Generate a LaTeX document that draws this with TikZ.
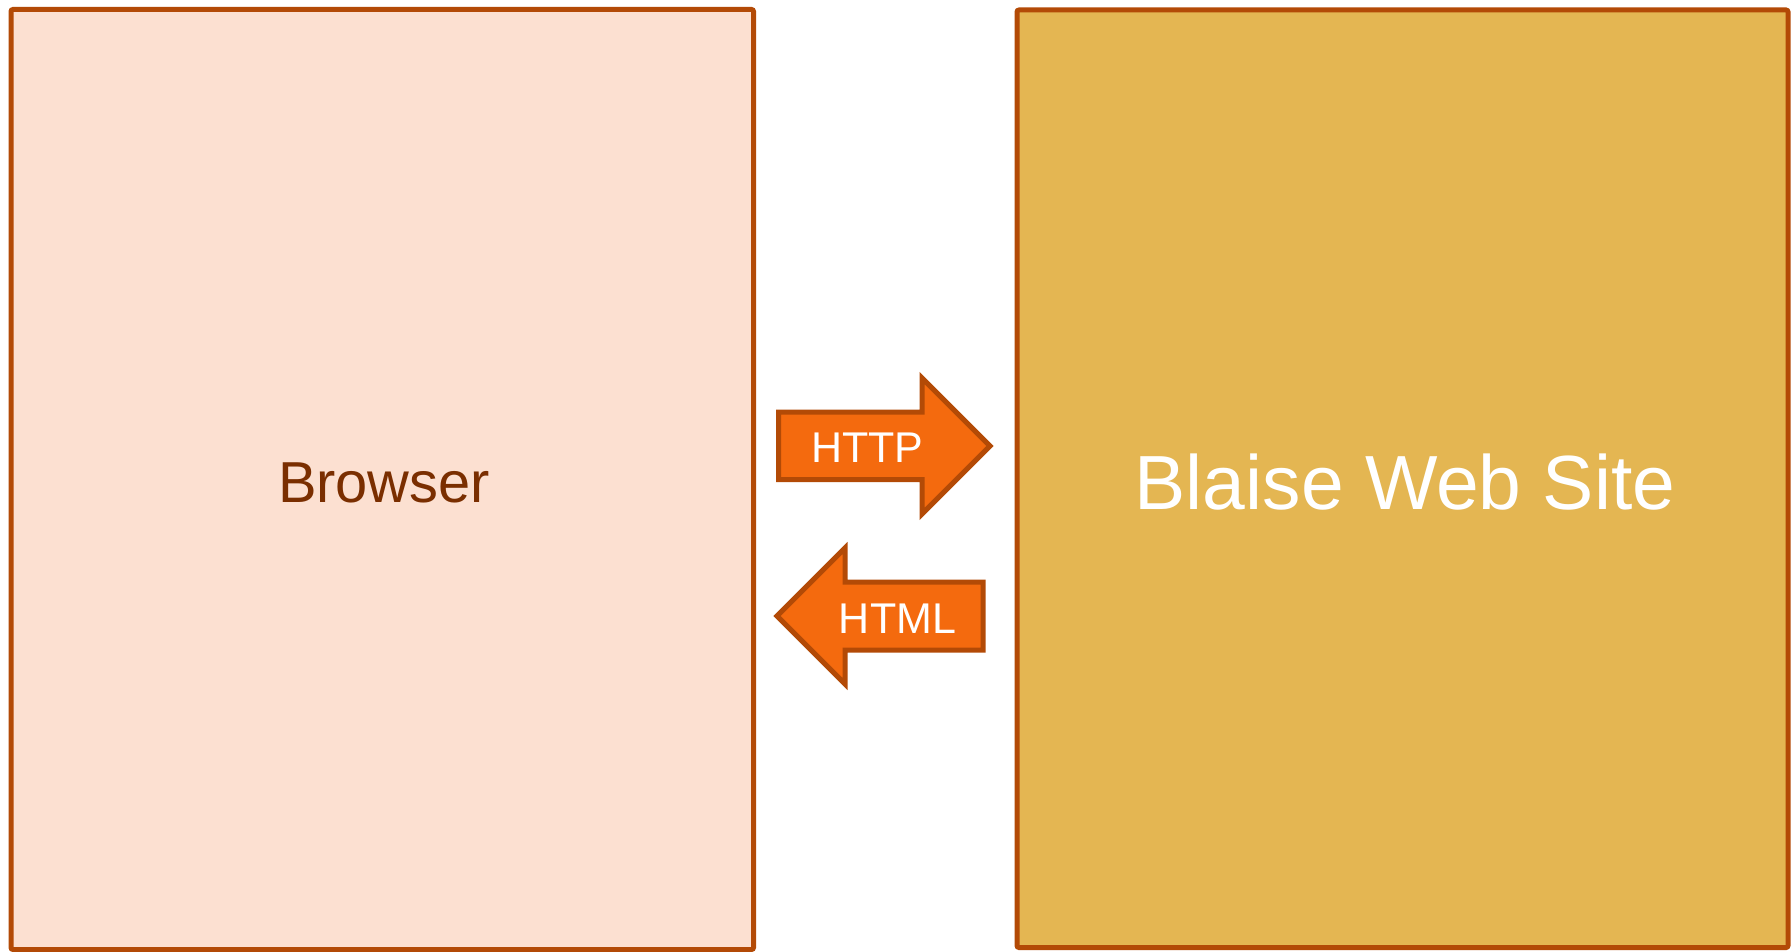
\documentclass[tikz,border=0pt]{standalone}
\usepackage{fontspec}
\setmainfont{Liberation Sans}
\usepackage{tikz}

\definecolor{boxline}{HTML}{B34A06}
\definecolor{browserfill}{HTML}{FCE0D1}
\definecolor{browsertext}{HTML}{7A2E00}
\definecolor{sitefill}{HTML}{E4B652}
\definecolor{arrowfill}{HTML}{F46A0E}

\begin{document}
\begin{tikzpicture}[x=0.5pt, y=-0.5pt, line width=2.5pt, line join=miter,
    block/.style={draw=boxline, rounded corners=1pt},
    bigarrow/.style={draw=boxline, fill=arrowfill},
    arrowlabel/.style={text=white, font=\fontsize{21.5}{24}\selectfont}]
    \useasboundingbox (0,0) rectangle (1792,952);
    % the two sides
    \draw[block, fill=browserfill] (11,9.5) rectangle (753.5,949.5);
    \draw[block, fill=sitefill] (1017,10) rectangle (1788,947.5);
    \node (browser) at (384,483.3) [text=browsertext, font=\fontsize{28.9}{32}\selectfont] {Browser};
    \node (site) at (1405,482.5) [text=white, font=\fontsize{38.4}{42}\selectfont] {Blaise Web Site};
    % request and answer
    \draw[bigarrow] (778.5,412) -- (922,412) -- (922,378) -- (990,446)
        -- (922,514) -- (922,479.5) -- (778.5,479.5) -- cycle;
    \draw[bigarrow] (983,582) -- (845,582) -- (845,548) -- (777,616)
        -- (845,684) -- (845,650) -- (983,650) -- cycle;
    \node (http) at (867.5,448) [arrowlabel] {HTTP};
    \node (html) at (897.5,619) [arrowlabel] {HTML};
\end{tikzpicture}
\end{document}
